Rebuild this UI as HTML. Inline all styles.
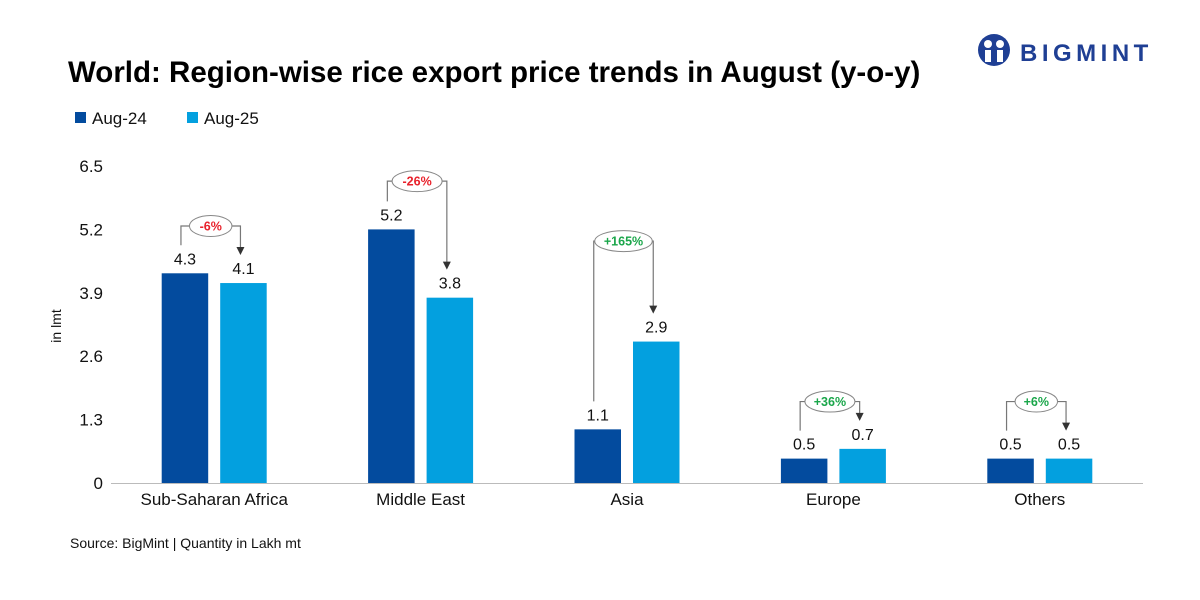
<!DOCTYPE html>
<html><head><meta charset="utf-8"><style>
body{margin:0;background:#fff;}
svg{display:block;font-family:"Liberation Sans",sans-serif;}
</style></head><body>
<svg id="c" width="1200" height="600" viewBox="0 0 1200 600">
<text x="68" y="82" font-size="29.5" font-weight="bold" fill="#000">World: Region-wise rice export price trends in August (y-o-y)</text>
<g>
<circle cx="994" cy="50" r="16" fill="#1f3f94"/>
<circle cx="988" cy="44" r="4" fill="#fff"/><circle cx="1000" cy="44" r="4" fill="#fff"/>
<rect x="985" y="50" width="6" height="12" fill="#fff"/><rect x="997" y="50" width="6" height="12" fill="#fff"/>
<text x="1020" y="61" font-size="24" font-weight="bold" fill="#1f3f94" letter-spacing="4.5">BIGMINT</text>
</g>
<g>
<rect x="75" y="112" width="11" height="11" fill="#034b9e"/>
<text x="92" y="124" font-size="17" fill="#111">Aug-24</text>
<rect x="187" y="112" width="11" height="11" fill="#03a0df"/>
<text x="204" y="124" font-size="17" fill="#111">Aug-25</text>
</g>
<text transform="translate(61,326) rotate(-90)" text-anchor="middle" font-size="14" fill="#111">in lmt</text>
<text x="70" y="548" font-size="14" fill="#111">Source: BigMint | Quantity in Lakh mt</text>
<g id="plot"></g>
</svg>
<script>
const categories=["Sub-Saharan Africa","Middle East","Asia","Europe","Others"];
const aug24=[4.3,5.2,1.1,0.5,0.5];
const aug25=[4.1,3.8,2.9,0.7,0.5];
const changeLabels=["-6%","-26%","+165%","+36%","+6%"];
const bracketLevel=[5.27,6.19,4.96,1.67,1.67];
const yTicks=[0,1.3,2.6,3.9,5.2,6.5];
const yTickLabels=["0","1.3","2.6","3.9","5.2","6.5"];
const NS="http://www.w3.org/2000/svg";
const g=document.getElementById('plot');
const x0=111,x1=1143,yBase=483,yTop=166,yMax=6.5;
const y=v=>yBase-(v/yMax)*(yBase-yTop);
const band=(x1-x0)/categories.length;
const cx=i=>x0+band*(i+0.5);
function el(t,a,txt){const e=document.createElementNS(NS,t);for(const k in a)e.setAttribute(k,a[k]);if(txt!==undefined)e.textContent=txt;g.appendChild(e);return e;}
yTicks.forEach((t,i)=>{
 const e=el('text',{x:103,y:y(t)+6,'text-anchor':'end','font-size':17,fill:'#111'},yTickLabels[i]);
 
 
});
const ax=el('line',{x1:x0,x2:x1,y1:yBase+0.5,y2:yBase+0.5,stroke:'#bbb','stroke-width':1});


const bw=46.5;
categories.forEach((c,i)=>{
 const xa=cx(i)-52.5, xb=cx(i)+6;
 const b1=el('rect',{x:xa,y:y(aug24[i]),width:bw,height:yBase-y(aug24[i]),fill:'#034b9e'});
 
 
 const b2=el('rect',{x:xb,y:y(aug25[i]),width:bw,height:yBase-y(aug25[i]),fill:'#03a0df'});
 
 
 const l1=el('text',{x:xa+bw/2,y:y(aug24[i])-9,'text-anchor':'middle','font-size':16,fill:'#111'},aug24[i].toFixed(1));
 
 
 const l2=el('text',{x:xb+bw/2,y:y(aug25[i])-9,'text-anchor':'middle','font-size':16,fill:'#111'},aug25[i].toFixed(1));
 
 
 const xl=el('text',{x:cx(i),y:505,'text-anchor':'middle','font-size':17,fill:'#111'},c);
 
 
 const lx=xa+bw/2-4, rx=xb+bw/2-3, top=y(bracketLevel[i]);
 const ly=y(aug24[i])-28, ry=y(aug25[i])-28;
 const p=el('path',{d:`M${lx} ${ly} V${top} H${rx} V${ry-7}`,fill:'none',stroke:'#777','stroke-width':1.2});
 
 
 const ar=el('path',{d:`M${rx-4} ${ry-8} L${rx+4} ${ry-8} L${rx} ${ry} Z`,fill:'#333'});
 
 
 const mx=(lx+rx)/2, w=changeLabels[i].length*7.5+20;
 const pill=el('ellipse',{cx:mx,cy:top,rx:w/2,ry:10.5,fill:'#fff',stroke:'#888','stroke-width':1});
 
 
 const ct=el('text',{x:mx,y:top+4.5,'text-anchor':'middle','font-size':12.5,'font-weight':'bold',fill:changeLabels[i][0]==='-'?'#e8212b':'#1aa64a'},changeLabels[i]);
 
 
});
</script>
</body></html>
